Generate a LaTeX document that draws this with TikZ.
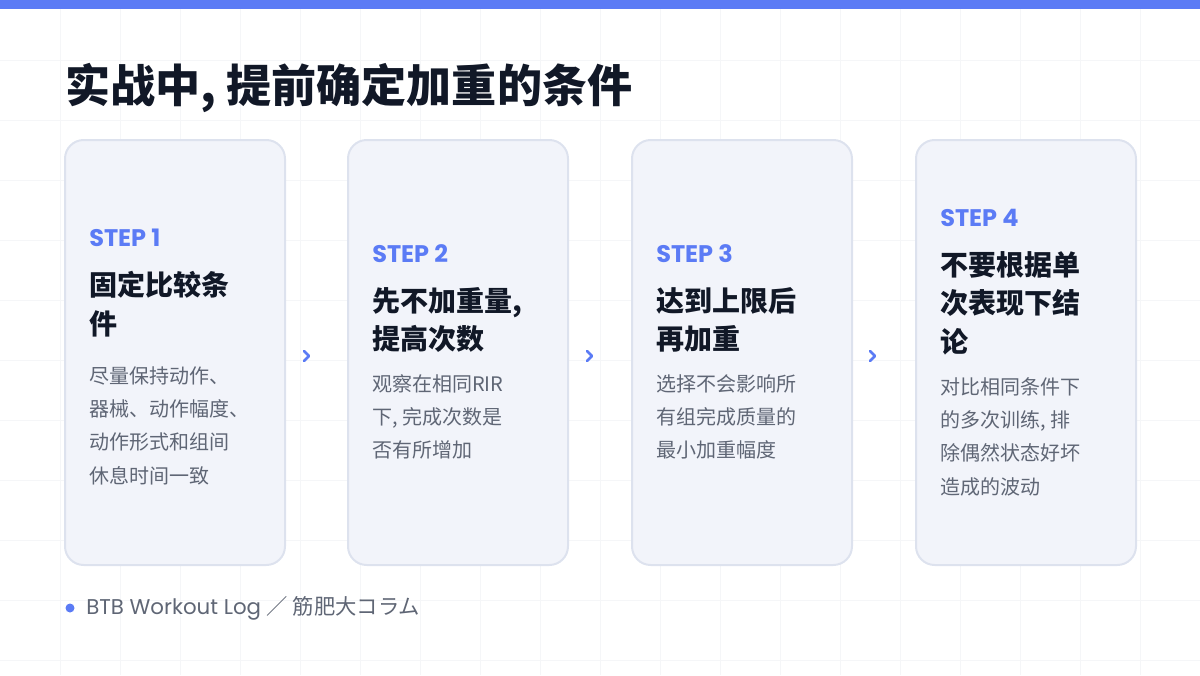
\documentclass[tikz,border=0pt]{standalone}
\usepackage{fontspec}
\setmainfont{Noto Sans CJK SC}
\newfontfamily\cjk{Noto Sans CJK SC}
\newfontfamily\jpfont{Noto Sans CJK JP}
\newfontfamily\stepfont{Poppins}
\usetikzlibrary{positioning}
\definecolor{accent}{HTML}{5B7BF5}
\definecolor{ink}{HTML}{111827}
\definecolor{muted}{HTML}{5F6675}
\definecolor{cardfill}{HTML}{F2F4FA}
\definecolor{cardline}{HTML}{DDE2EE}
\definecolor{gridline}{HTML}{F5F6F8}
\tikzset{
  card/.style={draw=cardline, line width=1.5pt, fill=cardfill, rounded corners=14pt},
  steplabel/.style={anchor=west, inner sep=0pt, text=accent, font=\stepfont\bfseries\fontsize{18}{20}\selectfont},
  heading/.style={anchor=north west, inner sep=0pt, align=left, text=ink, font=\cjk\bfseries\fontsize{21}{29}\selectfont},
  bodytext/.style={anchor=north west, inner sep=0pt, align=left, text=muted, font=\cjk\fontsize{15}{25}\selectfont},
  chevron/.style={accent, line width=2pt, line cap=round, line join=round}
}
\newcommand{\stepcard}[7]{%
  % #1 name, #2 left x, #3 step y, #4 step no, #5 heading, #6 body y, #7 body
  \draw[card] (#2,140) rectangle ++(220,425);
  \node[steplabel] (#1s) at (#2+24,#3) {STEP #4};
  \node[heading] (#1h) at (#2+24,#3+33) {#5};
  \node[bodytext] (#1b) at (#2+24,#6) {#7};
}
\newcommand{\chev}[2]{\draw[chevron] (#1-3,#2-5) -- (#1+2,#2) -- (#1-3,#2+5);}
\begin{document}
\begin{tikzpicture}[x=0.75pt,y=-0.75pt]
  \useasboundingbox (0,0) rectangle (1200,675);
  % Background grid
  \foreach \x in {60,120,...,1140} \draw[gridline,line width=0.7pt] (\x,0) -- (\x,675);
  \foreach \y in {60,120,...,660} \draw[gridline,line width=0.7pt] (0,\y) -- (1200,\y);
  \fill[accent] (0,0) rectangle (1200,9);

  % Title
  \node[anchor=west, text=ink, font=\cjk\bfseries\fontsize{33.8}{36}\selectfont, inner sep=0pt] (title) at (65,88) {实战中, 提前确定加重的条件};

  % Cards
  \stepcard{one}{65}{238}{1}{固定比较条\\件}{366}{尽量保持动作、\\器械、动作幅度、\\动作形式和组间\\休息时间一致}
  \stepcard{two}{348}{254}{2}{先不加重量,\\提高次数}{374}{观察在相同RIR\\下, 完成次数是\\否有所增加}
  \stepcard{three}{632}{254}{3}{达到上限后\\再加重}{374}{选择不会影响所\\有组完成质量的\\最小加重幅度}
  \stepcard{four}{916}{218}{4}{不要根据单\\次表现下结\\论}{377}{对比相同条件下\\的多次训练, 排\\除偶然状态好坏\\造成的波动}

  % Chevrons
  \chev{307}{356}
  \chev{590}{356}
  \chev{873}{356}

  % Footer
  \fill[accent] (70,608) circle (4.5);
  \node[anchor=west, text=muted, font=\stepfont\fontsize{16}{18}\selectfont, inner sep=0pt] (foot) at (86,608) {BTB Workout Log {\jpfont ／ 筋肥大コラム}};
\end{tikzpicture}
\end{document}
